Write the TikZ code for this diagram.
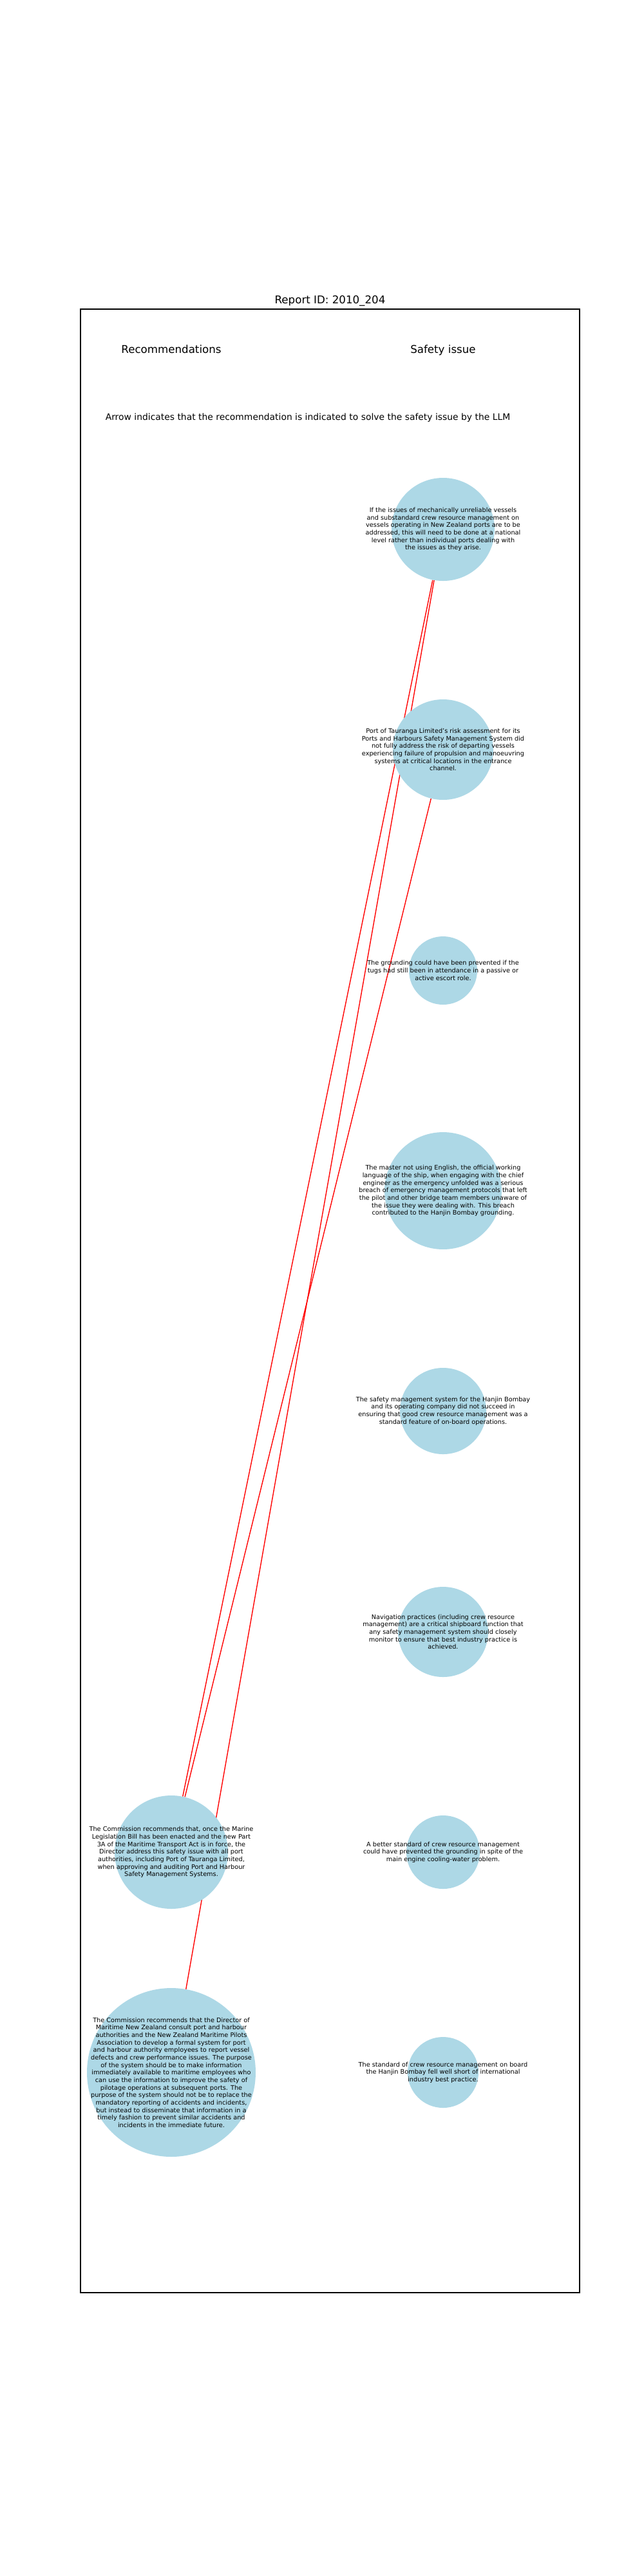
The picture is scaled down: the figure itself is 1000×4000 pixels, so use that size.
\documentclass[tikz,border=0pt]{standalone}
\usepackage{fontspec}
\setmainfont{DejaVu Sans}
\usetikzlibrary{backgrounds}
\definecolor{lblue}{HTML}{ADD8E6}
\begin{document}
\begin{tikzpicture}[x=0.72pt,y=-0.72pt,
  bub/.style={circle, fill=lblue, inner sep=0pt, draw=none},
  btxt/.style={align=center, font=\fontsize{7}{8.4}\selectfont, inner sep=0pt, text=black},
  link/.style={red, line width=1pt},
  head/.style={font=\fontsize{12}{14.4}\selectfont, anchor=base, inner sep=0pt}]
\useasboundingbox (0,0) rectangle (1000,4000);
\draw[line width=0.8pt] (125,480) rectangle (900,3560);
\node[head] (title) at (512.5,471) {Report ID: 2010\_204};
\node[head] (hrec) at (266,548) {Recommendations};
\node[head] (hiss) at (688,548) {Safety issue};
\node[font=\fontsize{10}{12}\selectfont, anchor=base, inner sep=0pt] (cap) at (478,652) {Arrow indicates that the recommendation is indicated to solve the safety issue by the LLM};
% circles
\node[bub, minimum size=115.2pt] (i1) at (688,822) {};
\node[bub, minimum size=112.3pt] (i2) at (688,1164) {};
\node[bub, minimum size=76.3pt] (i3) at (688,1507) {};
\node[bub, minimum size=131pt] (i4) at (688,1849) {};
\node[bub, minimum size=96.5pt] (i5) at (688,2191) {};
\node[bub, minimum size=100.8pt] (i6) at (688,2534) {};
\node[bub, minimum size=82.1pt] (i7) at (688,2876) {};
\node[bub, minimum size=79.2pt] (i8) at (688,3218) {};
\node[bub, minimum size=126.7pt] (r1) at (266,2876) {};
\node[bub, minimum size=188.6pt] (r2) at (266,3218) {};
\begin{pgfonlayer}{background}
\fill[white] (0,0) rectangle (1000,4000);
\draw[link] (r1) -- (i1);
\draw[link] (r1) -- (i2);
\draw[link] (r2) -- (i1);
\end{pgfonlayer}
% texts
\node[btxt] (t1) at (i1.center) {If the issues of mechanically unreliable vessels\\and substandard crew resource management on\\vessels operating in New Zealand ports are to be\\addressed, this will need to be done at a national\\level rather than individual ports dealing with\\the issues as they arise.};
\node[btxt] (t2) at (i2.center) {Port of Tauranga Limited's risk assessment for its\\Ports and Harbours Safety Management System did\\not fully address the risk of departing vessels\\experiencing failure of propulsion and manoeuvring\\systems at critical locations in the entrance\\channel.};
\node[btxt] (t3) at (i3.center) {The grounding could have been prevented if the\\tugs had still been in attendance in a passive or\\active escort role.};
\node[btxt] (t4) at (i4.center) {The master not using English, the official working\\language of the ship, when engaging with the chief\\engineer as the emergency unfolded was a serious\\breach of emergency management protocols that left\\the pilot and other bridge team members unaware of\\the issue they were dealing with. This breach\\contributed to the Hanjin Bombay grounding.};
\node[btxt] (t5) at (i5.center) {The safety management system for the Hanjin Bombay\\and its operating company did not succeed in\\ensuring that good crew resource management was a\\standard feature of on-board operations.};
\node[btxt] (t6) at (i6.center) {Navigation practices (including crew resource\\management) are a critical shipboard function that\\any safety management system should closely\\monitor to ensure that best industry practice is\\achieved.};
\node[btxt] (t7) at (i7.center) {A better standard of crew resource management\\could have prevented the grounding in spite of the\\main engine cooling-water problem.};
\node[btxt] (t8) at (i8.center) {The standard of crew resource management on board\\the Hanjin Bombay fell well short of international\\industry best practice.};
\node[btxt] (tr1) at (r1.center) {The Commission recommends that, once the Marine\\Legislation Bill has been enacted and the new Part\\3A of the Maritime Transport Act is in force, the\\Director address this safety issue with all port\\authorities, including Port of Tauranga Limited,\\when approving and auditing Port and Harbour\\Safety Management Systems.};
\node[btxt] (tr2) at (r2.center) {The Commission recommends that the Director of\\Maritime New Zealand consult port and harbour\\authorities and the New Zealand Maritime Pilots\\Association to develop a formal system for port\\and harbour authority employees to report vessel\\defects and crew performance issues. The purpose\\of the system should be to make information\\immediately available to maritime employees who\\can use the information to improve the safety of\\pilotage operations at subsequent ports. The\\purpose of the system should not be to replace the\\mandatory reporting of accidents and incidents,\\but instead to disseminate that information in a\\timely fashion to prevent similar accidents and\\incidents in the immediate future.};
\end{tikzpicture}
\end{document}
